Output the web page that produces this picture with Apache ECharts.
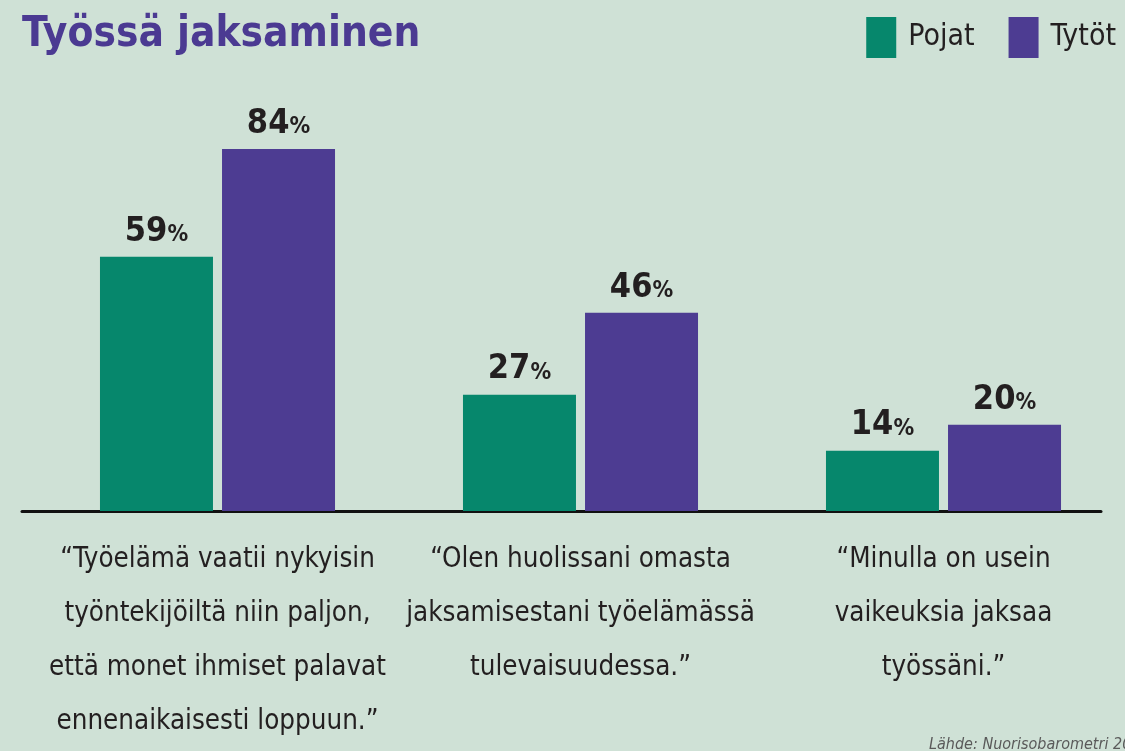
<!DOCTYPE html>
<html>
<head>
<meta charset="utf-8">
<script src="https://cdn.jsdelivr.net/npm/echarts@6/dist/echarts.min.js"></script>
<style>
  html, body { margin: 0; padding: 0; background: #cfe1d6; }
  #main { width: 1125px; height: 751px; }
</style>
</head>
<body>
<div id="main"></div>
<script>
var categories = [
  '“Työelämä vaatii nykyisin\ntyöntekijöiltä niin paljon,\nettä monet ihmiset palavat\nennenaikaisesti loppuun.”',
  '“Olen huolissani omasta\njaksamisestani työelämässä\ntulevaisuudessa.”',
  '“Minulla on usein\nvaikeuksia jaksaa\ntyössäni.”'
];
var pojat = [59, 27, 14];
var tytot = [84, 46, 20];

var condensed = "'Liberation Sans Narrow', 'DejaVu Sans Condensed', 'Open Sans', sans-serif";

var chart = echarts.init(document.getElementById('main'));

function valueLabel() {
  return {
    show: true,
    position: 'top',
    distance: 8,
    formatter: function (p) { return '{n|' + p.value + '}{p|%}'; },
    rich: {
      n: { fontSize: 34, fontWeight: 'bold', color: '#231f20', fontFamily: condensed },
      p: { fontSize: 23, fontWeight: 'bold', color: '#231f20', fontFamily: condensed, padding: [7, 0, 0, 0] }
    }
  };
}

var option = {
  backgroundColor: '#cfe1d6',
  title: [{
    text: 'Työssä jaksaminen',
    left: 17,
    top: 9,
    textStyle: { fontSize: 42, fontWeight: 'bold', color: '#4b3a92', fontFamily: condensed }
  }, {
    text: 'Lähde: Nuorisobarometri 20',
    left: 924,
    top: 732,
    textStyle: { fontSize: 16, fontStyle: 'italic', fontWeight: 'normal', color: '#5a5a5a', fontFamily: condensed }
  }],
  legend: {
    right: 4,
    top: 12,
    itemWidth: 30,
    itemHeight: 41,
    itemGap: 34,
    icon: 'rect',
    textStyle: { fontSize: 30, color: '#231f20', fontFamily: condensed, padding: [0, 0, 0, 7] }
  },
  grid: [
    { left: 36, right: 0, top: 80, bottom: 240 },
    { left: 22, right: 24, top: 80, bottom: 240 }
  ],
  xAxis: [{
    type: 'category',
    gridIndex: 0,
    data: categories,
    axisLine: { show: false },
    axisTick: { show: false },
    axisLabel: {
      interval: 0,
      margin: 22,
      fontSize: 27.5,
      lineHeight: 54,
      color: '#231f20',
      fontFamily: condensed
    }
  }, {
    type: 'value',
    gridIndex: 1,
    min: 0,
    max: 1,
    axisLine: { show: true, lineStyle: { color: '#111', width: 3 } },
    axisTick: { show: false },
    axisLabel: { show: false },
    splitLine: { show: false }
  }],
  yAxis: [{
    type: 'value',
    gridIndex: 0,
    min: 0,
    max: 100,
    show: false
  }, {
    type: 'value',
    gridIndex: 1,
    show: false
  }],
  series: [{
    name: 'Pojat',
    type: 'bar',
    xAxisIndex: 0,
    yAxisIndex: 0,
    data: pojat,
    barWidth: 113,
    barGap: '8%',
    itemStyle: { color: '#06876c' },
    label: valueLabel()
  }, {
    name: 'Tytöt',
    type: 'bar',
    xAxisIndex: 0,
    yAxisIndex: 0,
    data: tytot,
    barWidth: 113,
    barGap: '8%',
    itemStyle: { color: '#4d3c92' },
    label: valueLabel()
  }]
};

chart.setOption(option);
</script>
</body>
</html>
